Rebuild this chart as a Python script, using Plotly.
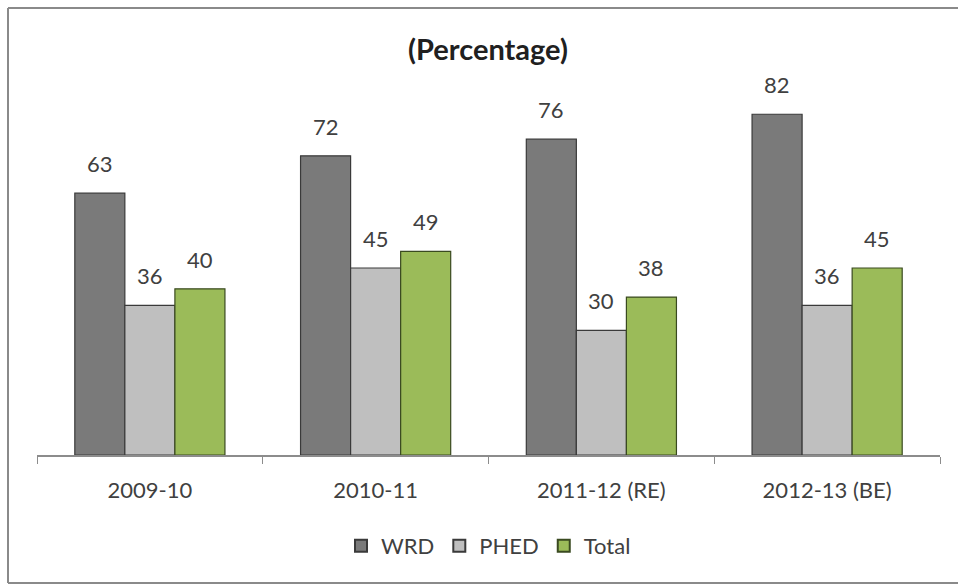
import plotly.graph_objects as go

categories = ["2009-10", "2010-11", "2011-12 (RE)", "2012-13 (BE)"]
wrd = [63, 72, 76, 82]
phed = [36, 45, 30, 36]
total = [40, 49, 38, 45]
series_names = ["WRD", "PHED", "Total"]
title_text = "(Percentage)"

colors = ["#7a7a7a", "#bfbfbf", "#9bbb59"]
outlines = ["#3a3a3a", "#3a3a3a", "#3a4a20"]
FONT = "Lato, 'Open Sans', sans-serif"
TXT = "#404040"

W, H = 958, 585
L, R, T, B = 37, 18, 81, 130
BAR_PX = 50

fig = go.Figure()
series = [wrd, phed, total]
for name, vals, c, oc in zip(series_names, series, colors, outlines):
    fig.add_trace(go.Bar(
        x=categories, y=vals, name=name,
        marker=dict(color=c, line=dict(color=oc, width=1.2)),
    ))

shifts = [-BAR_PX, 0, BAR_PX]
for vals, sh in zip(series, shifts):
    for cat, v in zip(categories, vals):
        fig.add_annotation(x=cat, y=v, xref="x", yref="y", text=str(v),
                           showarrow=False, xshift=sh, yshift=14, yanchor="bottom",
                           font=dict(family=FONT, size=22, color=TXT))

pw = W - L - R
ph = H - T - B
def px_x(p):
    return (p - L) / pw
def px_y(p):
    return (H - B - p) / ph

border = dict(color="#8a8a8a", width=2)
fig.add_shape(type="line", xref="paper", yref="paper", x0=px_x(8), x1=px_x(8), y0=px_y(8), y1=px_y(583), line=border)
fig.add_shape(type="line", xref="paper", yref="paper", x0=px_x(8), x1=px_x(958), y0=px_y(8), y1=px_y(8), line=border)
fig.add_shape(type="line", xref="paper", yref="paper", x0=px_x(8), x1=px_x(958), y0=px_y(583), y1=px_y(583), line=border)

fig.update_layout(
    width=W, height=H,
    margin=dict(l=L, r=R, t=T, b=B, pad=0),
    paper_bgcolor="white", plot_bgcolor="white",
    barmode="group", bargap=0.335, bargroupgap=0,
    title=dict(text="<b>" + title_text + "</b>", x=(488) / W, xanchor="center",
               y=1 - 50 / H, yanchor="middle",
               font=dict(family=FONT, size=29, color="#202020")),
    font=dict(family=FONT, color=TXT),
    showlegend=True,
    legend=dict(orientation="h", x=0.5, xanchor="center", y=px_y(546), yanchor="middle",
                font=dict(family=FONT, size=22, color=TXT), itemsizing="constant",
                traceorder="normal"),
    xaxis=dict(type="category", showline=True, linecolor="#8c8c8c", linewidth=1.5,
               ticks="outside", tickson="boundaries", ticklen=7, tickcolor="#8c8c8c",
               tickfont=dict(family=FONT, size=22, color=TXT), ticklabelstandoff=15,
               showgrid=False, zeroline=False),
    yaxis=dict(range=[0, 90], visible=False, showgrid=False, zeroline=False),
)

fig.write_html("out.html")
